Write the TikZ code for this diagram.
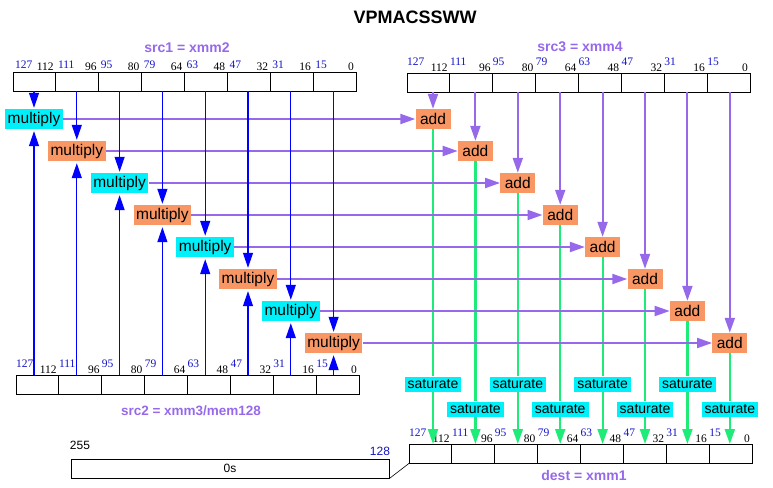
\documentclass[tikz,border=0pt]{standalone}
\usepackage{fontspec}
\setmainfont{Liberation Sans}
\newfontfamily\numfont{Liberation Serif}
\usetikzlibrary{arrows.meta}

\definecolor{lineblue}{RGB}{0,0,255}
\definecolor{numblue}{RGB}{20,20,200}
\definecolor{mulcyan}{RGB}{0,240,250}
\definecolor{addorange}{RGB}{248,150,100}
\definecolor{lilac}{RGB}{150,105,235}
\definecolor{satgreen}{RGB}{30,235,120}

\begin{document}
\begin{tikzpicture}[x=1pt, y=-1pt, >={Triangle[width=10pt,length=15pt]},
  reg/.style={draw, line width=0.9pt, minimum width=343pt, minimum height=18.5pt, inner sep=0pt, anchor=north west},
  hibit/.style={numblue, inner sep=0pt, font=\numfont\fontsize{11.5}{13}\selectfont},
  lobit/.style={black, inner sep=0pt, font=\numfont\fontsize{11.5}{13}\selectfont},
  opbox/.style={inner xsep=2.5pt, inner ysep=0pt, minimum height=20pt, font=\fontsize{15.5}{18}\selectfont},
  satbox/.style={fill=mulcyan, inner xsep=3pt, inner ysep=0pt, minimum height=15pt, font=\fontsize{14}{16}\selectfont},
  srclabel/.style={lilac, font=\bfseries\fontsize{14}{16}\selectfont},
  blueline/.style={lineblue, line width=1.2pt},
  purpleline/.style={lilac, line width=2pt},
  greenline/.style={satgreen, line width=2.2pt}]
\useasboundingbox (0,0) rectangle (773,487);
\node[font=\bfseries\fontsize{18}{21}\selectfont] (title) at (415,17) {VPMACSSWW};
\foreach \n/\x/\y/\rs/\dx in {src1/13/72/4/2, src2/16/375/8/0, src3/407/73/8/0, dest/409/444/8/0} {
  \node[reg] (\n) at (\x,\y) {};
  \foreach \k [evaluate=\k as \hi using int(127-16*\k), evaluate=\k as \lo using int(112-16*\k)] in {0,...,7} {
    \draw[line width=0.9pt] ([xshift=\k*42.875pt]\n.north west) -- ([xshift=\k*42.875pt]\n.south west);
    \node[hibit, anchor=base west] at ([xshift=\k*42.875pt+\dx pt, yshift=\rs pt]\n.north west) {\hi};
    \node[lobit, anchor=base east] at ([xshift=\k*42.875pt+40.875pt, yshift=1.5pt]\n.north west) {\lo};
  }
}
\node[srclabel] (l1) at (187,48) {src1 = xmm2};
\node[srclabel] (l3) at (580,47) {src3 = xmm4};
\node[srclabel, font=\bfseries\fontsize{13.5}{16}\selectfont] (l2) at (191,411) {src2 = xmm3/mem128};
\node[srclabel] (l4) at (584,475) {dest = xmm1};
\node[draw, line width=0.9pt, minimum width=318pt, minimum height=19pt, inner sep=0pt, font=\fontsize{12}{14}\selectfont] (zero) at (230,468.5) {0s};
\node[font=\fontsize{12}{14}\selectfont] (b255) at (80,445) {255};
\node[numblue, font=\fontsize{12}{14}\selectfont] (b128) at (380,451) {128};
\draw[line width=0.6pt] (zero.south east) -- (dest.south west);
\foreach \i/\c [evaluate=\i as \mx using 34+42.8*(\i-1), evaluate=\i as \my using 119+32*(\i-1), evaluate=\i as \ax using 433+42.4*(\i-1), evaluate=\i as \sy using {384+25*(1-mod(\i,2))}] in {1/mulcyan, 2/addorange, 3/mulcyan, 4/addorange, 5/mulcyan, 6/addorange, 7/mulcyan, 8/addorange} {
  \node[opbox, fill=\c] (m\i) at (\mx,\my) {multiply};
  \node[opbox, fill=addorange, minimum width=35pt] (a\i) at (\ax,\my) {add};
  \node[satbox] (s\i) at (\ax,\sy) {saturate};
  \draw[blueline, ->, shorten >=1pt] (m\i |- src1.south) -- (m\i);
  \draw[blueline, ->, shorten >=2pt] (m\i |- src2.north) -- (m\i);
  \draw[purpleline, ->] (m\i) -- (a\i);
  \draw[purpleline, ->] (a\i |- src3.south) -- (a\i);
  \draw[greenline] (a\i) -- (s\i);
  \draw[greenline, ->] (s\i) -- (a\i |- dest.north);
}
\end{tikzpicture}
\end{document}
